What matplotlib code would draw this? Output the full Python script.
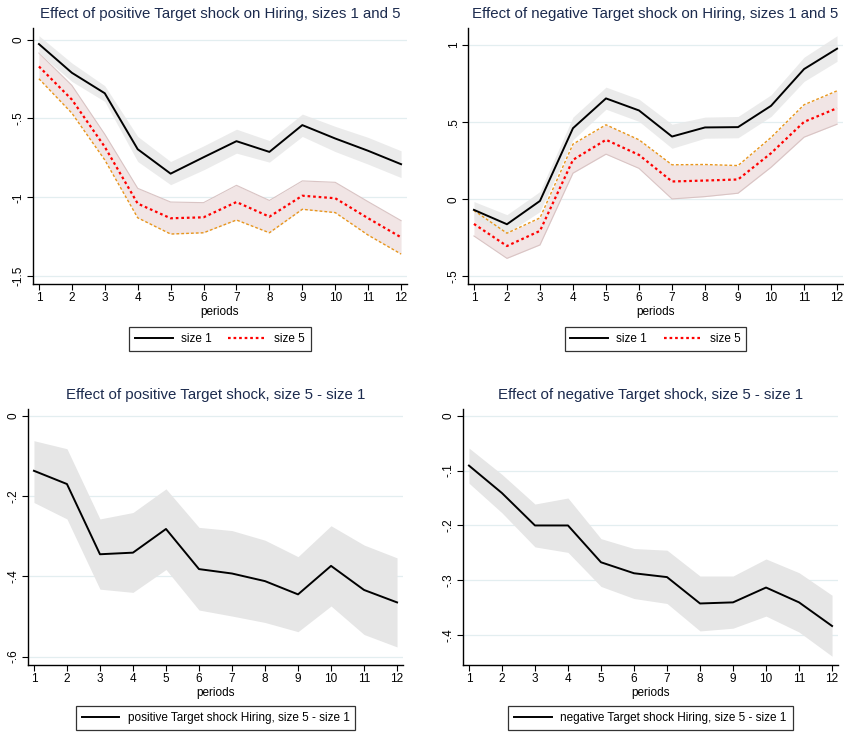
import matplotlib
matplotlib.use("Agg")
import matplotlib.pyplot as plt
from matplotlib import font_manager

# ---- data -------------------------------------------------------------
periods = list(range(1, 13))

# positive shock, size 1 and size 5
pos_s1 = [-0.028, -0.21, -0.34, -0.695, -0.85, -0.746, -0.644, -0.712, -0.542, -0.627, -0.705, -0.79]
pos_s1_hi = [0.025, -0.148, -0.292, -0.614, -0.773, -0.674, -0.568, -0.64, -0.472, -0.55, -0.62, -0.705]
pos_s1_lo = [-0.085, -0.265, -0.392, -0.773, -0.92, -0.826, -0.72, -0.777, -0.614, -0.71, -0.79, -0.875]
pos_s5 = [-0.17, -0.38, -0.68, -1.04, -1.133, -1.127, -1.03, -1.123, -0.99, -1.006, -1.133, -1.254]
pos_s5_hi = [-0.085, -0.29, -0.60, -0.943, -1.03, -1.034, -0.924, -1.02, -0.896, -0.905, -1.028, -1.148]
pos_s5_lo = [-0.248, -0.466, -0.763, -1.13, -1.233, -1.225, -1.144, -1.225, -1.076, -1.097, -1.24, -1.36]

# negative shock, size 1 and size 5
neg_s1 = [-0.069, -0.162, -0.011, 0.46, 0.653, 0.575, 0.406, 0.465, 0.467, 0.605, 0.843, 0.975]
neg_s1_hi = [-0.015, -0.10, 0.05, 0.532, 0.726, 0.648, 0.486, 0.532, 0.536, 0.676, 0.92, 1.059]
neg_s1_lo = [-0.13, -0.22, -0.08, 0.385, 0.583, 0.504, 0.33, 0.395, 0.398, 0.536, 0.763, 0.893]
neg_s5 = [-0.16, -0.303, -0.205, 0.255, 0.385, 0.287, 0.115, 0.121, 0.128, 0.298, 0.501, 0.59]
neg_s5_hi = [-0.073, -0.22, -0.121, 0.357, 0.482, 0.385, 0.223, 0.225, 0.218, 0.40, 0.612, 0.702]
neg_s5_lo = [-0.238, -0.383, -0.296, 0.169, 0.292, 0.20, 0.002, 0.017, 0.039, 0.207, 0.402, 0.486]

# differences, size 5 - size 1
pos_diff = [-0.137, -0.17, -0.345, -0.341, -0.282, -0.382, -0.393, -0.412, -0.445, -0.374, -0.434, -0.465]
pos_diff_hi = [-0.062, -0.082, -0.257, -0.241, -0.182, -0.278, -0.286, -0.31, -0.351, -0.274, -0.322, -0.354]
pos_diff_lo = [-0.216, -0.257, -0.432, -0.44, -0.383, -0.484, -0.499, -0.515, -0.538, -0.474, -0.545, -0.576]
neg_diff = [-0.091, -0.141, -0.20, -0.20, -0.267, -0.287, -0.294, -0.342, -0.34, -0.313, -0.34, -0.383]
neg_diff_hi = [-0.059, -0.107, -0.161, -0.15, -0.224, -0.242, -0.245, -0.292, -0.292, -0.261, -0.286, -0.327]
neg_diff_lo = [-0.123, -0.177, -0.239, -0.249, -0.311, -0.333, -0.342, -0.392, -0.387, -0.365, -0.394, -0.438]

titles = [
    "Effect of positive Target shock on Hiring, sizes 1 and 5",
    "Effect of negative Target shock on Hiring, sizes 1 and 5",
    "Effect of positive Target shock, size 5 - size 1",
    "Effect of negative Target shock, size 5 - size 1",
]
pos_yticks = [0, -0.5, -1, -1.5]
pos_ylabels = ["0", "-.5", "-1", "-1.5"]
neg_yticks = [-0.5, 0, 0.5, 1]
neg_ylabels = ["-.5", "0", ".5", "1"]
pdiff_yticks = [0, -0.2, -0.4, -0.6]
pdiff_ylabels = ["0", "-.2", "-.4", "-.6"]
ndiff_yticks = [0, -0.1, -0.2, -0.3, -0.4]
ndiff_ylabels = ["0", "-.1", "-.2", "-.3", "-.4"]

# ---- style ------------------------------------------------------------
available = {f.name for f in font_manager.fontManager.ttflist}
family = "Liberation Sans Narrow" if "Liberation Sans Narrow" in available else "Liberation Sans"
plt.rcParams["font.family"] = [family, "DejaVu Sans"]

TITLE_C = "#1c2b4e"
GRID_C = "#e3eef0"
BAND1 = "#e8e8e8"
BAND5 = "#f1e5e5"
BAND5_EDGE = "#d9c4c4"
ORANGE = "#e8961c"
DIFF_BAND = "#e6e6e6"
TITLE_FS = 10.8
TICK_FS = 8.5

W, H = 844, 734
fig = plt.figure(figsize=(W / 100, H / 100), dpi=100)


def make_ax(l, r, t, b):
    return fig.add_axes([l / W, 1 - b / H, (r - l) / W, (b - t) / H])


def style(ax, yticks, ylabels, ylim, title):
    ax.set_xlim(0.82, 12.18)
    ax.set_ylim(*ylim)
    ax.set_xticks(periods)
    ax.set_xticklabels([str(p) for p in periods], fontsize=TICK_FS)
    ax.set_yticks(yticks)
    ax.set_yticklabels(ylabels, fontsize=TICK_FS, rotation=90, va="center")
    for s in ("top", "right"):
        ax.spines[s].set_visible(False)
    for s in ("left", "bottom"):
        ax.spines[s].set_linewidth(1.0)
    ax.tick_params(direction="out", length=4, width=0.8, pad=2)
    ax.grid(axis="y", color=GRID_C, linewidth=0.9)
    ax.set_axisbelow(True)
    ax.set_xlabel("periods", fontsize=TICK_FS, labelpad=1)
    ax.set_title(title, fontsize=TITLE_FS, color=TITLE_C, pad=7)


def legend(ax, handles, labels, y):
    leg = ax.legend(handles, labels, loc="upper center", bbox_to_anchor=(0.5, y),
                    ncol=len(labels), frameon=True, fancybox=False, fontsize=TICK_FS,
                    handlelength=3.2, columnspacing=1.4, borderpad=0.5,
                    handletextpad=0.7, borderaxespad=0)
    fr = leg.get_frame()
    fr.set_edgecolor("black")
    fr.set_linewidth(0.9)


def size_panel(ax, s1, s1_hi, s1_lo, s5, s5_hi, s5_lo, orange_edge):
    ax.fill_between(periods, s5_lo, s5_hi, color=BAND5, linewidth=0, zorder=1)
    edge_other = s5_hi if orange_edge == "lo" else s5_lo
    edge_orange = s5_lo if orange_edge == "lo" else s5_hi
    ax.plot(periods, edge_other, color=BAND5_EDGE, lw=0.8, zorder=2)
    ax.fill_between(periods, s1_lo, s1_hi, color=BAND1, alpha=0.85, linewidth=0, zorder=2)
    ax.plot(periods, edge_orange, color=ORANGE, lw=1.0, ls=(0, (2, 1.5)), zorder=3)
    l1, = ax.plot(periods, s1, color="black", lw=1.4, zorder=4)
    l5, = ax.plot(periods, s5, color="red", lw=1.6, ls=(0, (1.2, 1.3)), zorder=4)
    return l1, l5


# top-left
ax1 = make_ax(33, 407, 28, 284)
h = size_panel(ax1, pos_s1, pos_s1_hi, pos_s1_lo, pos_s5, pos_s5_hi, pos_s5_lo, "lo")
style(ax1, pos_yticks, pos_ylabels, (-1.55, 0.074), titles[0])
legend(ax1, h, ["size 1", "size 5"], -0.168)

# top-right
ax2 = make_ax(468, 843, 28, 284)
h = size_panel(ax2, neg_s1, neg_s1_hi, neg_s1_lo, neg_s5, neg_s5_hi, neg_s5_lo, "hi")
style(ax2, neg_yticks, neg_ylabels, (-0.549, 1.109), titles[1])
legend(ax2, h, ["size 1", "size 5"], -0.168)

# bottom-left
ax3 = make_ax(28, 403, 409, 665)
ax3.fill_between(periods, pos_diff_lo, pos_diff_hi, color=DIFF_BAND, linewidth=0, zorder=1)
l, = ax3.plot(periods, pos_diff, color="black", lw=1.4, zorder=3)
style(ax3, pdiff_yticks, pdiff_ylabels, (-0.621, 0.017), titles[2])
legend(ax3, [l], ["positive Target shock Hiring, size 5 - size 1"], -0.16)

# bottom-right
ax4 = make_ax(463, 838, 409, 665)
ax4.fill_between(periods, neg_diff_lo, neg_diff_hi, color=DIFF_BAND, linewidth=0, zorder=1)
l, = ax4.plot(periods, neg_diff, color="black", lw=1.4, zorder=3)
style(ax4, ndiff_yticks, ndiff_ylabels, (-0.454, 0.012), titles[3])
legend(ax4, [l], ["negative Target shock Hiring, size 5 - size 1"], -0.16)

fig.savefig("out.png", dpi=100, facecolor="white")
